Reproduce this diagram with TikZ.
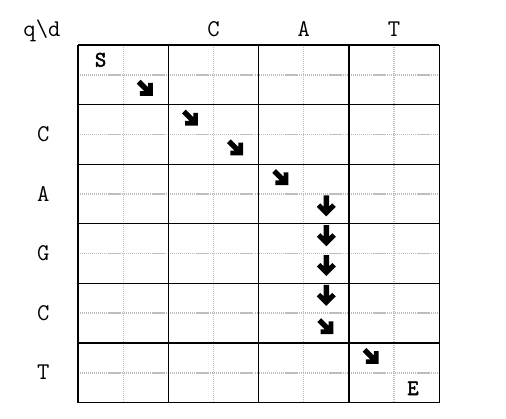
\documentclass[tikz,border=0pt]{standalone}
\usepackage{fontspec}
\newfontfamily\boldtt{Latin Modern Mono}[FakeBold=2.5]
\definecolor{gridgray}{RGB}{190,190,190}

\begin{document}
\begin{tikzpicture}[x=1pt,y=1pt,yscale=-1,xscale=1,
	majorline/.style={line width=1.2pt, black},
	minorvline/.style={line width=1.3pt, gridgray, dash pattern=on 1pt off 1pt},
	minorhline/.style={line width=1.5pt, gridgray, dash phase=14.15pt,
		dash pattern=on 13pt off 1.15pt on 1pt off 1pt on 1pt off 1pt on 1pt off 1pt on 1pt off 1pt on 1pt off 1pt on 1pt off 1pt on 1pt off 1pt on 1pt off 1pt on 1pt off 1pt on 1pt off 1pt on 1pt off 1pt on 1pt off 1pt on 1pt off 1pt on 1pt off 1pt on 1pt off 1pt},
	seqlabel/.style={inner sep=0pt, anchor=base, font=\ttfamily\fontsize{24}{24}\selectfont},
	endlabel/.style={inner sep=0pt, anchor=base, font=\boldtt\fontsize{22}{22}\selectfont},
	arrowdn/.pic={\fill[black] (-2.8,10.5) -- (2.8,10.5) -- (2.8,-0.7) -- (6,2.5) -- (9.5,-1) -- (0,-10.5) -- (-9.5,-1) -- (-6,2.5) -- (-2.8,-0.7) -- cycle;}
	]
		\useasboundingbox (0,0) rectangle (506,418);

		% Dotted grey lines in the middle of each block (columns)
		\draw[minorvline] (123.15,45) -- (123.15,402.6);
		\draw[minorvline] (213.45,45) -- (213.45,402.6);
		\draw[minorvline] (303.75,45) -- (303.75,402.6);
		\draw[minorvline] (394.05,45) -- (394.05,402.6);

		% Dotted grey lines in the middle of each block (rows)
		\draw[minorhline] (78,74.8) -- (439.2,74.8);
		\draw[minorhline] (78,134.4) -- (439.2,134.4);
		\draw[minorhline] (78,194) -- (439.2,194);
		\draw[minorhline] (78,253.6) -- (439.2,253.6);
		\draw[minorhline] (78,313.2) -- (439.2,313.2);
		\draw[minorhline] (78,372.8) -- (439.2,372.8);

		% Black block borders (columns)
		\draw[majorline] (78,45) -- (78,402.6);
		\draw[majorline] (168.3,45) -- (168.3,402.6);
		\draw[majorline] (258.6,45) -- (258.6,402.6);
		\draw[majorline] (348.9,45) -- (348.9,402.6);
		\draw[majorline] (439.2,45) -- (439.2,402.6);

		% Black block borders (rows)
		\draw[majorline] (78,45) -- (439.2,45);
		\draw[majorline] (78,104.6) -- (439.2,104.6);
		\draw[majorline] (78,164.2) -- (439.2,164.2);
		\draw[majorline] (78,223.8) -- (439.2,223.8);
		\draw[majorline] (78,283.4) -- (439.2,283.4);
		\draw[majorline] (78,343) -- (439.2,343);
		\draw[majorline] (78,402.6) -- (439.2,402.6);

		% Corner label and the letters along the top
		\node[seqlabel] (qd) at (42,36) {q\textbackslash d};
		\node[seqlabel] (colC) at (213.45,36) {C};
		\node[seqlabel] (colA) at (303.75,36) {A};
		\node[seqlabel] (colT) at (394.05,36) {T};

		% The letters down the left side
		\node[seqlabel] (rowC) at (43.3,141.4) {C};
		\node[seqlabel] (rowA) at (43.3,201) {A};
		\node[seqlabel] (rowG) at (43.3,260.6) {G};
		\node[seqlabel] (rowCb) at (43.3,320.2) {C};
		\node[seqlabel] (rowT) at (43.3,379.8) {T};

		% Start and end cells
		\node[endlabel] (startS) at (100.6,66.5) {S};
		\node[endlabel] (endE) at (413,395) {E};

		% Diagonal steps
		\pic[rotate=45, scale=0.95] at (145.7,88.7) {arrowdn};
		\pic[rotate=45, scale=0.95] at (190.9,118.5) {arrowdn};
		\pic[rotate=45, scale=0.95] at (236,148.3) {arrowdn};
		\pic[rotate=45, scale=0.95] at (281.2,178.1) {arrowdn};

		% Steps straight down
		\pic at (326.3,205.9) {arrowdn};
		\pic at (326.3,235.7) {arrowdn};
		\pic at (326.3,265.5) {arrowdn};
		\pic at (326.3,295.3) {arrowdn};

		% Diagonal steps to the end
		\pic[rotate=45, scale=0.95] at (326.3,327.1) {arrowdn};
		\pic[rotate=45, scale=0.95] at (371.5,356.9) {arrowdn};
	\end{tikzpicture}
\end{document}
